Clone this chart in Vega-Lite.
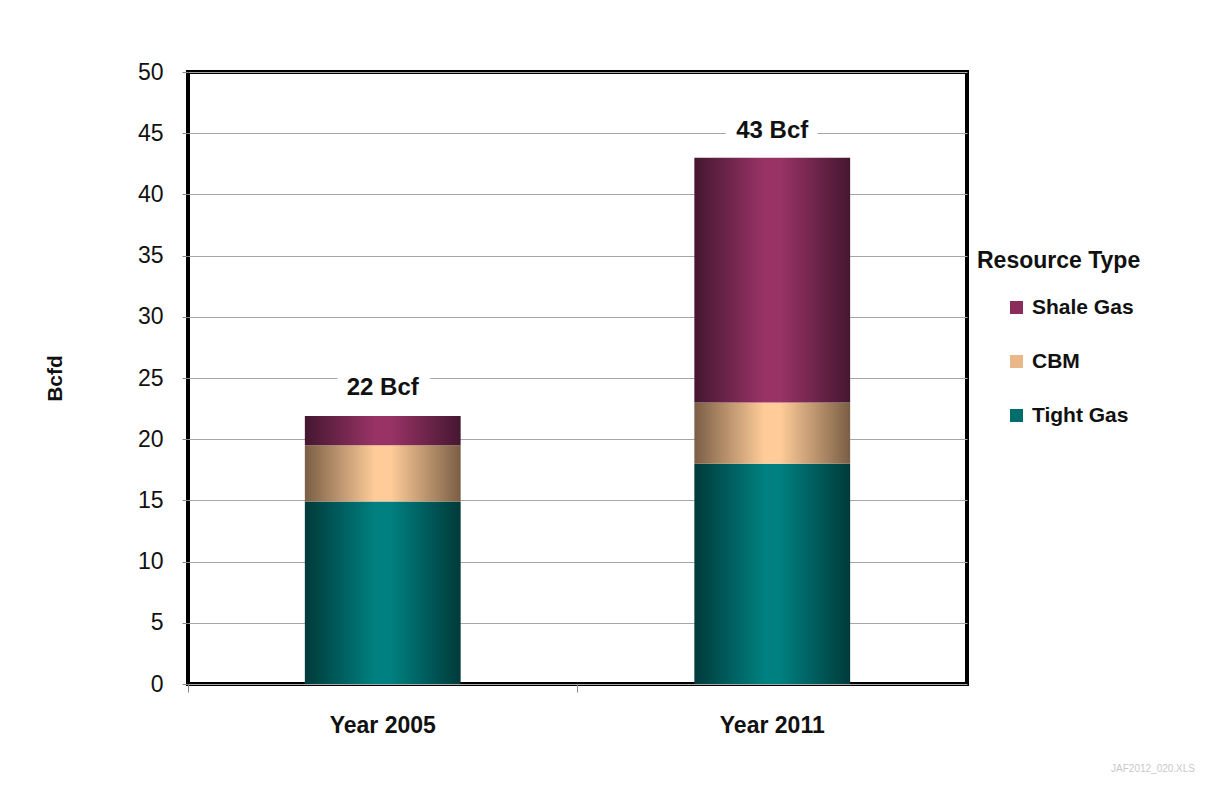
{
  "$schema": "https://vega.github.io/schema/vega-lite/v6.json",
  "width": 779,
  "height": 612,
  "autosize": {"type": "none"},
  "padding": {"left": 188, "top": 72, "right": 264, "bottom": 113},
  "background": "white",
  "config": {
    "view": {"stroke": "black", "strokeWidth": 4},
    "font": "Liberation Sans"
  },
  "datasets": {
    "gas": [
      {"year": "Year 2005", "type": "Tight Gas", "rank": 1, "bcfd": 14.9},
      {"year": "Year 2005", "type": "CBM", "rank": 2, "bcfd": 4.6},
      {"year": "Year 2005", "type": "Shale Gas", "rank": 3, "bcfd": 2.4},
      {"year": "Year 2011", "type": "Tight Gas", "rank": 1, "bcfd": 18.0},
      {"year": "Year 2011", "type": "CBM", "rank": 2, "bcfd": 5.0},
      {"year": "Year 2011", "type": "Shale Gas", "rank": 3, "bcfd": 20.0}
    ],
    "totals": [
      {"year": "Year 2005", "total": 22, "label": "22 Bcf"},
      {"year": "Year 2011", "total": 43, "label": "43 Bcf"}
    ]
  },
  "title": {
    "text": "JAF2012_020.XLS",
    "orient": "bottom",
    "anchor": "end",
    "frame": "group",
    "fontSize": 10,
    "font": "Liberation Sans",
    "fontWeight": "normal",
    "color": "#c8c8c8",
    "dx": 228,
    "offset": 27
  },
  "encoding": {
    "x": {
      "field": "year",
      "type": "nominal",
      "scale": {"paddingInner": 0, "paddingOuter": 0},
      "axis": {
        "title": null,
        "labelAngle": 0,
        "labelFont": "Liberation Sans",
        "labelFontSize": 23,
        "labelFontWeight": "bold",
        "labelColor": "#111",
        "labelPadding": 22,
        "domain": false,
        "ticks": true,
        "tickColor": "#888",
        "tickSize": 8,
        "bandPosition": 0
      }
    }
  },
  "layer": [
    {
      "data": {"name": "gas"},
      "mark": {"type": "bar", "width": {"band": 0.4}, "strokeWidth": 0},
      "encoding": {
        "y": {
          "field": "bcfd",
          "type": "quantitative",
          "stack": "zero",
          "scale": {"domain": [0, 50], "nice": false},
          "axis": {
            "title": "Bcfd",
            "titleFont": "Liberation Sans",
            "titleFontSize": 21,
            "titleFontWeight": "bold",
            "titleColor": "#111",
            "titleX": -133,
            "titleY": 306,
            "titleAlign": "center",
            "titleBaseline": "middle",
            "values": [0, 5, 10, 15, 20, 25, 30, 35, 40, 45, 50],
            "labelFont": "Liberation Sans",
            "labelFontSize": 23,
            "labelColor": "#111",
            "labelPadding": 19,
            "tickSize": 6,
            "tickColor": "#888",
            "domain": false,
            "grid": true,
            "gridColor": "#a6a6a6",
            "gridWidth": 1.2
          }
        },
        "fill": {
          "condition": [
            {"test": "datum.type === 'Shale Gas'", "value": {"gradient": "linear", "x1": 0, "x2": 1, "y1": 0, "y2": 0, "stops": [
                {"offset": 0, "color": "#451731"},
                {"offset": 0.45, "color": "#993366"},
                {"offset": 0.55, "color": "#993366"},
                {"offset": 1, "color": "#451731"}]}},
            {"test": "datum.type === 'CBM'", "value": {"gradient": "linear", "x1": 0, "x2": 1, "y1": 0, "y2": 0, "stops": [
                {"offset": 0, "color": "#7a5e45"},
                {"offset": 0.45, "color": "#ffcc99"},
                {"offset": 0.55, "color": "#ffcc99"},
                {"offset": 1, "color": "#7a5e45"}]}}
          ],
          "value": {"gradient": "linear", "x1": 0, "x2": 1, "y1": 0, "y2": 0, "stops": [
                {"offset": 0, "color": "#003a3a"},
                {"offset": 0.45, "color": "#008080"},
                {"offset": 0.55, "color": "#008080"},
                {"offset": 1, "color": "#003a3a"}]}
        },
        "stroke": {
          "field": "type",
          "type": "nominal",
          "scale": {
            "domain": ["Shale Gas", "CBM", "Tight Gas"],
            "range": ["#8a2d5c", "#e8b888", "#006d6d"]
          },
          "legend": {
            "title": "Resource Type",
            "orient": "none",
            "legendX": 789,
            "legendY": 178,
            "titleFont": "Liberation Sans",
            "titleFontSize": 23,
            "titleFontWeight": "bold",
            "titleColor": "#111",
            "titlePadding": 24,
            "symbolType": "square",
            "symbolSize": 36,
            "symbolStrokeWidth": 7,
            "symbolOffset": 29,
            "labelFont": "Liberation Sans",
            "labelFontSize": 21,
            "labelFontWeight": "bold",
            "labelColor": "#111",
            "labelOffset": 5,
            "rowPadding": 19
          }
        },
        "order": {"field": "rank", "type": "quantitative"}
      }
    },
    {
      "data": {"name": "totals"},
      "mark": {"type": "text", "dy": -27, "baseline": "middle", "fontSize": 24, "fontWeight": "bold", "font": "Liberation Sans", "stroke": "white", "strokeWidth": 22, "strokeJoin": "round"},
      "encoding": {
        "y": {"field": "total", "type": "quantitative"},
        "text": {"field": "label"}
      }
    },
    {
      "data": {"name": "totals"},
      "mark": {"type": "text", "dy": -27, "baseline": "middle", "fontSize": 24, "fontWeight": "bold", "font": "Liberation Sans", "color": "#111"},
      "encoding": {
        "y": {"field": "total", "type": "quantitative"},
        "text": {"field": "label"}
      }
    }
  ]
}
